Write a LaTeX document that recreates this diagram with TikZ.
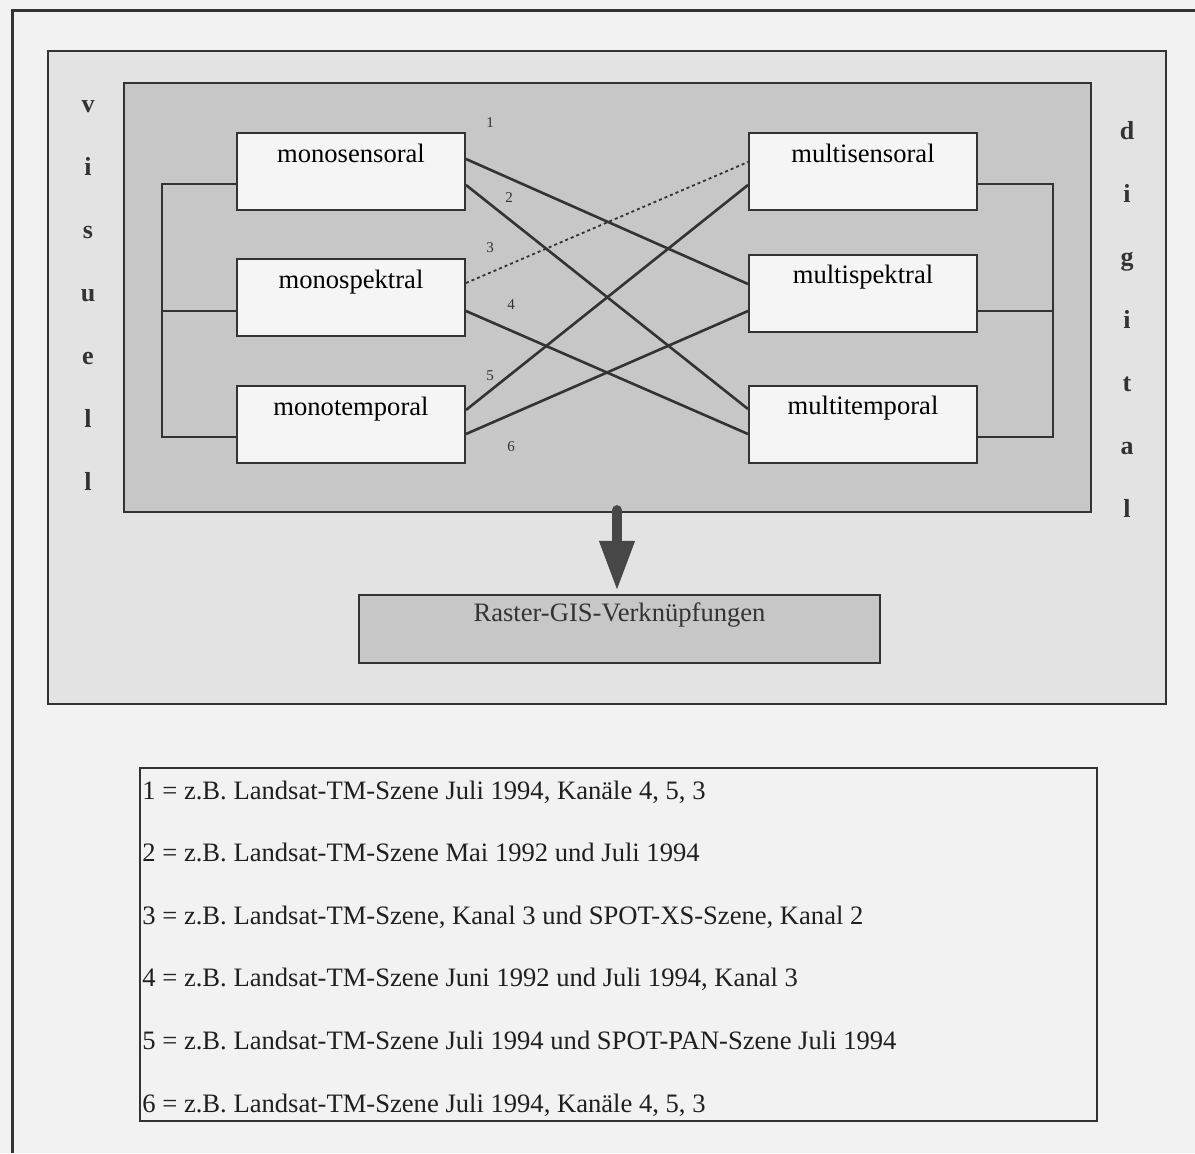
\documentclass[tikz,border=0pt]{standalone}
\usepackage{fontspec}
\setmainfont{Liberation Serif}
\usepackage{tikz}
\usetikzlibrary{calc}
\usetikzlibrary{arrows.meta}

\definecolor{paper}{gray}{0.95}
\definecolor{panellight}{gray}{0.89}
\definecolor{paneldark}{gray}{0.78}
\definecolor{boxwhite}{gray}{0.96}
\definecolor{ink}{gray}{0.2}

\begin{document}
\begin{tikzpicture}[x=0.5pt,y=-0.5pt,
    panel/.style={draw=ink,line width=1.1pt,inner sep=0pt},
    box/.style={draw=ink,line width=1pt,fill=boxwhite,inner sep=0pt,minimum width=114pt,
        text height=14.5pt,text depth=24pt,font=\fontsize{13.3}{15}\selectfont},
    link/.style={draw=ink,line width=0.9pt},
    cross/.style={draw=ink,line width=1.3pt},
    num/.style={font=\fontsize{7.5}{8}\selectfont,text=ink,inner sep=0pt},
    side/.style={font=\bfseries\fontsize{13}{15}\selectfont,text=ink,inner sep=0pt,anchor=base},
    legendtext/.style={font=\fontsize{13.3}{15}\selectfont,text=ink!60!black,inner sep=0pt,anchor=base west},
    bigarrow/.style={draw=ink!90,line width=5pt,line cap=round,-{Triangle[width=16.5pt,length=25pt]}}]
    \fill[paper] (0,0) rectangle (1195,1153);
    \useasboundingbox (0,0) rectangle (1195,1153);
    % outer frame, cut off at the page edge
    \draw[ink,line width=1.5pt] (12,1153) -- (12,10) -- (1195,10);

    \node[panel,fill=panellight,minimum width=559pt,minimum height=326.5pt] (mid) at (607,377.5) {};
    \node[panel,fill=paneldark,minimum width=483.5pt,minimum height=214.5pt] (inner) at (607.5,297.5) {};

    \node[box] (monosens) at (351,171.5) {monosensoral};
    \node[box] (monospek) at (351,297.5) {monospektral};
    \node[box] (monotemp) at (351,424.5) {monotemporal};
    \node[box] (multisens) at (863,171.5) {multisensoral};
    \node[box] (multispek) at (863,293) {multispektral};
    \node[box] (multitemp) at (863,424) {multitemporal};

    % brackets
    \draw[link] ($(monosens.west)+(0,12.5)$) -- ++(-74,0) |- ($(monotemp.west)+(0,12.5)$);
    \draw[link] ($(monospek.west)+(0,13.5)$) -- ++(-74,0);
    \draw[link] ($(multisens.east)+(0,12.5)$) -- ++(75,0) |- ($(multitemp.east)+(0,13)$);
    \draw[link] ($(multispek.east)+(0,18)$) -- ++(75,0);

    % combinations
    \draw[cross] ($(monosens.east)+(0,-12.5)$) -- ($(multispek.west)+(0,-9)$);
    \draw[cross] ($(monosens.east)+(0,13.5)$) -- ($(multitemp.west)+(0,-15)$);
    \draw[link,dash pattern=on 1.5pt off 1.5pt] ($(monospek.east)+(0,-14.5)$) -- ($(multisens.west)+(0,-9.5)$);
    \draw[cross] ($(monospek.east)+(0,13.5)$) -- ($(multitemp.west)+(0,10)$);
    \draw[cross] ($(monotemp.east)+(0,-14.5)$) -- ($(multisens.west)+(0,13.5)$);
    \draw[cross] ($(monotemp.east)+(0,9.5)$) -- ($(multispek.west)+(0,18)$);

    \node[num] (n1) at (490,123) {1};
    \node[num] (n2) at (509,198) {2};
    \node[num] (n3) at (490,248) {3};
    \node[num] (n4) at (511,305) {4};
    \node[num] (n5) at (490,376) {5};
    \node[num] (n6) at (511,447) {6};

    \foreach \c [count=\k] in {v,i,s,u,e,l,l}
        \node[side] (vis\k) at (88,{112+(\k-1)*63}) {\c};
    \foreach \c [count=\k] in {d,i,g,i,t,a,l}
        \node[side] (dig\k) at (1127,{139+(\k-1)*63}) {\c};

    \node[panel,fill=paneldark,minimum width=260.5pt,text height=13pt,text depth=21pt,
        font=\fontsize{13.3}{15}\selectfont,text=ink] (raster) at (619.5,629) {Raster-GIS-Verkn\"upfungen};
    \draw[bigarrow] ($(inner.south)+(9.5,-3)$) -- ($(raster.north)+(-2.5,-3)$);

    % legend
    \node[panel,line width=1.2pt,minimum width=478.5pt,minimum height=176.5pt] (legend) at (618.5,944.5) {};
    \foreach \i/\t in {1/{z.B. Landsat-TM-Szene Juli 1994, Kanäle 4, 5, 3},
                       2/{z.B. Landsat-TM-Szene Mai 1992 und Juli 1994},
                       3/{z.B. Landsat-TM-Szene, Kanal 3 und SPOT-XS-Szene, Kanal 2},
                       4/{z.B. Landsat-TM-Szene Juni 1992 und Juli 1994, Kanal 3},
                       5/{z.B. Landsat-TM-Szene Juli 1994 und SPOT-PAN-Szene Juli 1994},
                       6/{z.B. Landsat-TM-Szene Juli 1994, Kanäle 4, 5, 3}}
        \node[legendtext] (leg\i) at (142,{799+(\i-1)*62.6}) {\i{} = \t};
\end{tikzpicture}
\end{document}
